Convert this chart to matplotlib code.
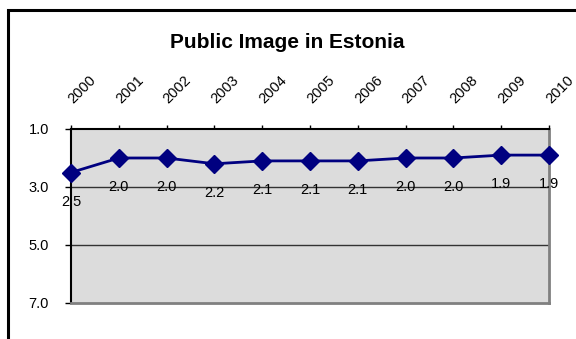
import matplotlib
matplotlib.use("Agg")
import matplotlib.pyplot as plt
from matplotlib.patches import Rectangle
from matplotlib.transforms import ScaledTranslation

years = [2000, 2001, 2002, 2003, 2004, 2005, 2006, 2007, 2008, 2009, 2010]
values = [2.5, 2.0, 2.0, 2.2, 2.1, 2.1, 2.1, 2.0, 2.0, 1.9, 1.9]
y_ticks = [1.0, 3.0, 5.0, 7.0]
title = "Public Image in Estonia"

plt.rcParams['font.family'] = ['Liberation Sans', 'DejaVu Sans']

fig = plt.figure(figsize=(5.76, 3.39), dpi=100)
fig.patch.set_facecolor('white')

# outer chart frame (extends beyond image at right/bottom)
fig.patches.append(Rectangle((8/576, -0.05), 1.0, 1 - 10/339 + 0.05,
                             transform=fig.transFigure, fill=False,
                             edgecolor='black', linewidth=2.2))

ax = fig.add_axes([71/576, 1 - 303/339, 478/576, 174/339])
ax.set_facecolor('#DCDCDC')

ax.plot(years, values, color='#000080', linewidth=2.0, marker='D',
        markersize=9, markerfacecolor='#000080', markeredgecolor='#000080',
        clip_on=False, zorder=3)

for x, v in zip(years, values):
    ax.annotate(f"{v:.1f}", (x, v), xytext=(0, -21), textcoords='offset points',
                ha='center', va='center', fontsize=10.5, color='black', zorder=4,
                annotation_clip=False)

ax.set_xlim(years[0], years[-1])
ax.set_ylim(7.0, 1.0)
ax.set_yticks(y_ticks)
ax.set_yticklabels([f"{t:.1f}" for t in y_ticks], fontsize=10.5)
ax.set_xticks(years)
ax.xaxis.tick_top()
ax.set_xticklabels([str(y) for y in years], fontsize=10.5, rotation=45,
                   ha='left', va='baseline', rotation_mode='anchor')
ax.tick_params(axis='x', which='both', direction='out', length=3, width=1,
               pad=15, top=True, bottom=False)
ax.tick_params(axis='y', direction='out', length=4, width=1, pad=12)
shift = ScaledTranslation(2/100, 0, fig.dpi_scale_trans)
for lab in ax.get_xticklabels():
    lab.set_transform(lab.get_transform() + shift)

for gy in [3.0, 5.0]:
    ax.axhline(gy, color='#333333', linewidth=1.0, zorder=1)

ax.spines['left'].set_color('black')
ax.spines['left'].set_linewidth(1.5)
ax.spines['top'].set_color('black')
ax.spines['top'].set_linewidth(1.5)
ax.spines['right'].set_color('#808080')
ax.spines['right'].set_linewidth(2.0)
ax.spines['bottom'].set_color('#808080')
ax.spines['bottom'].set_linewidth(2.0)

fig.text(287/576, 1 - 42/339, title, ha='center', va='center',
         fontsize=15, fontweight='bold')

fig.savefig('out.png', dpi=100)
